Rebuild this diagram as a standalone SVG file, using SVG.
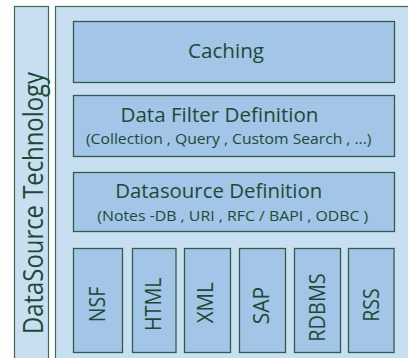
<svg xmlns="http://www.w3.org/2000/svg" width="408" height="358" viewBox="0 0 408 358">
<style>
.panel{fill:#c8dff2;stroke:#3d6a52;stroke-width:1.2}
.box{fill:#a3c5e7;stroke:#2f5e46;stroke-width:1.3}
text{font-family:"Open Sans","Noto Sans","Liberation Sans",sans-serif;fill:#1b4c33}
.t{font-size:20px;text-anchor:middle}
.s{font-size:14px}
.v{font-size:21px;text-anchor:middle}
</style>
<rect x="0" y="0" width="408" height="358" fill="#ffffff"/>
<g id="technology-bar">
<rect class="panel" x="14.5" y="6.5" width="34" height="360"/>
<text font-size="27" transform="translate(43,334) rotate(-90)" textLength="262" lengthAdjust="spacingAndGlyphs">DataSource Technology</text>
</g>
<g id="main-panel">
<rect class="panel" x="55.5" y="6.5" width="370" height="360"/>
</g>
<g id="caching">
<rect class="box" x="73.5" y="21.5" width="321" height="61"/>
<text class="t" x="226" y="58" font-size="21" textLength="76" lengthAdjust="spacingAndGlyphs">Caching</text>
</g>
<g id="data-filter">
<rect class="box" x="73.5" y="95.5" width="321" height="61"/>
<text class="t" x="219.5" y="121.7" textLength="198" lengthAdjust="spacingAndGlyphs">Data Filter Definition</text>
<text class="s" x="86" y="144.3" textLength="285.5" lengthAdjust="spacingAndGlyphs">(Collection , Query , Custom Search  , ...)</text>
</g>
<g id="datasource-definition">
<rect class="box" x="73.5" y="172.5" width="321" height="59"/>
<text class="t" x="218.7" y="198" textLength="207" lengthAdjust="spacingAndGlyphs">Datasource Definition</text>
<text class="s" x="97.3" y="220.7" textLength="271" lengthAdjust="spacingAndGlyphs">(Notes -DB , URI , RFC / BAPI , ODBC )</text>
</g>
<g id="nsf">
<rect class="box" x="73.5" y="248.5" width="49" height="104"/>
<text class="v" transform="translate(105,304.5) rotate(-90)" textLength="35.6" lengthAdjust="spacingAndGlyphs">NSF</text>
</g>
<g id="html">
<rect class="box" x="132.5" y="248.5" width="43.5" height="104"/>
<text class="v" transform="translate(160.7,304.2) rotate(-90)" textLength="53.7" lengthAdjust="spacingAndGlyphs">HTML</text>
</g>
<g id="xml">
<rect class="box" x="184.5" y="248.5" width="46" height="104"/>
<text class="v" transform="translate(213.3,302.8) rotate(-90)" textLength="41" lengthAdjust="spacingAndGlyphs">XML</text>
</g>
<g id="sap">
<rect class="box" x="239.5" y="248.5" width="46" height="104"/>
<text class="v" transform="translate(269.3,305.5) rotate(-90)" textLength="37.6" lengthAdjust="spacingAndGlyphs">SAP</text>
</g>
<g id="rdbms">
<rect class="box" x="294.5" y="248.5" width="46" height="104"/>
<text class="v" transform="translate(325,307.5) rotate(-90)" textLength="68.4" lengthAdjust="spacingAndGlyphs">RDBMS</text>
</g>
<g id="rss">
<rect class="box" x="348.5" y="248.5" width="45.5" height="104"/>
<text class="v" transform="translate(379.3,305) rotate(-90)" textLength="33.4" lengthAdjust="spacingAndGlyphs">RSS</text>
</g>
</svg>
